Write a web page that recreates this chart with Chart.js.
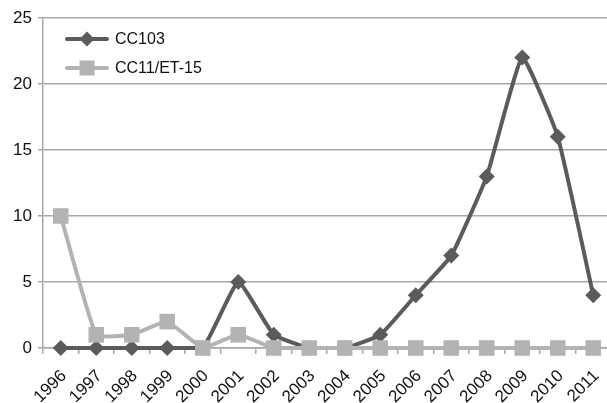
<!DOCTYPE html>
<html>
<head>
<meta charset="utf-8">
<script src="https://cdn.jsdelivr.net/npm/chart.js@4/dist/chart.umd.min.js"></script>
<style>
html,body{margin:0;padding:0;background:#fff;overflow:hidden;}
#wrap{position:relative;width:607px;height:403px;overflow:hidden;}
</style>
</head>
<body>
<div id="wrap"><canvas id="c" width="611" height="403"></canvas></div>
<script>
const years = ['1996','1997','1998','1999','2000','2001','2002','2003','2004','2005','2006','2007','2008','2009','2010','2011'];
const cc103 = [0,0,0,0,0,5,1,0,0,1,4,7,13,22,16,4];
const cc11 = [10,1,1,2,0,1,0,0,0,0,0,0,0,0,0,0];
const yTicks = [0,5,10,15,20,25];

const DARK = '#5b5b5b';
const LIGHT = '#b3b3b3';
const GRID = '#a8a8a8';
const FONT = 'Liberation Sans';

const legendPlugin = {
  id: 'insideLegend',
  afterDraw(chart) {
    const ctx = chart.ctx;
    const items = [
      {label: 'CC103', color: DARK, style: 'diamond', y: 39},
      {label: 'CC11/ET-15', color: LIGHT, style: 'square', y: 68}
    ];
    ctx.save();
    items.forEach(it => {
      ctx.strokeStyle = it.color;
      ctx.lineWidth = 4;
      ctx.lineCap = 'round';
      ctx.beginPath();
      ctx.moveTo(67, it.y);
      ctx.lineTo(107, it.y);
      ctx.stroke();
      ctx.fillStyle = it.color;
      ctx.beginPath();
      if (it.style === 'diamond') {
        ctx.moveTo(87, it.y - 7.5);
        ctx.lineTo(94.5, it.y);
        ctx.lineTo(87, it.y + 7.5);
        ctx.lineTo(79.5, it.y);
        ctx.closePath();
      } else {
        ctx.rect(79.5, it.y - 7.5, 15, 15);
      }
      ctx.fill();
      ctx.fillStyle = '#111';
      ctx.font = '16px "' + FONT + '"';
      ctx.textBaseline = 'middle';
      ctx.textAlign = 'left';
      ctx.fillText(it.label, 115, it.y + 1);
    });
    ctx.restore();
  }
};

new Chart(document.getElementById('c'), {
  type: 'line',
  data: {
    labels: years,
    datasets: [
      {
        label: 'CC103',
        data: cc103,
        borderColor: DARK,
        backgroundColor: DARK,
        borderWidth: 4,
        pointStyle: 'rectRot',
        pointRadius: 8,
        pointBorderWidth: 0,
        pointBackgroundColor: DARK,
        tension: 0.12,
        clip: false,
        order: 1
      },
      {
        label: 'CC11/ET-15',
        data: cc11,
        borderColor: LIGHT,
        backgroundColor: LIGHT,
        borderWidth: 4,
        pointStyle: 'rect',
        pointRadius: 11,
        pointBorderWidth: 0,
        pointBackgroundColor: LIGHT,
        tension: 0.12,
        clip: false,
        order: 0
      }
    ]
  },
  options: {
    responsive: false,
    animation: false,
    devicePixelRatio: 1,
    layout: {autoPadding: false, padding: {top: 18, right: 0, left: 0, bottom: 0}},
    plugins: {legend: {display: false}, tooltip: {enabled: false}},
    scales: {
      x: {
        offset: true,
        afterFit(s) { s.height = 55; s.paddingRight = 0; s.paddingLeft = 0; },
        grid: {
          offset: true,
          drawOnChartArea: false,
          drawTicks: true,
          tickLength: 6,
          color: GRID,
          lineWidth: 1.5
        },
        border: {color: GRID, width: 1.5},
        ticks: {
          minRotation: 45,
          maxRotation: 45,
          autoSkip: false,
          color: '#111',
          padding: 12,
          labelOffset: 3,
          font: {family: FONT, size: 17}
        }
      },
      y: {
        min: 0,
        max: 25,
        afterFit(s) { s.width = 43; },
        afterBuildTicks(s) { s.ticks = yTicks.map(v => ({value: v})); },
        grid: {
          color: GRID,
          lineWidth: 1.5,
          tickLength: 5,
          drawTicks: true
        },
        border: {color: GRID, width: 1.5},
        ticks: {
          color: '#111',
          padding: 6,
          font: {family: FONT, size: 17}
        }
      }
    }
  },
  plugins: [legendPlugin]
});
</script>
</body>
</html>
